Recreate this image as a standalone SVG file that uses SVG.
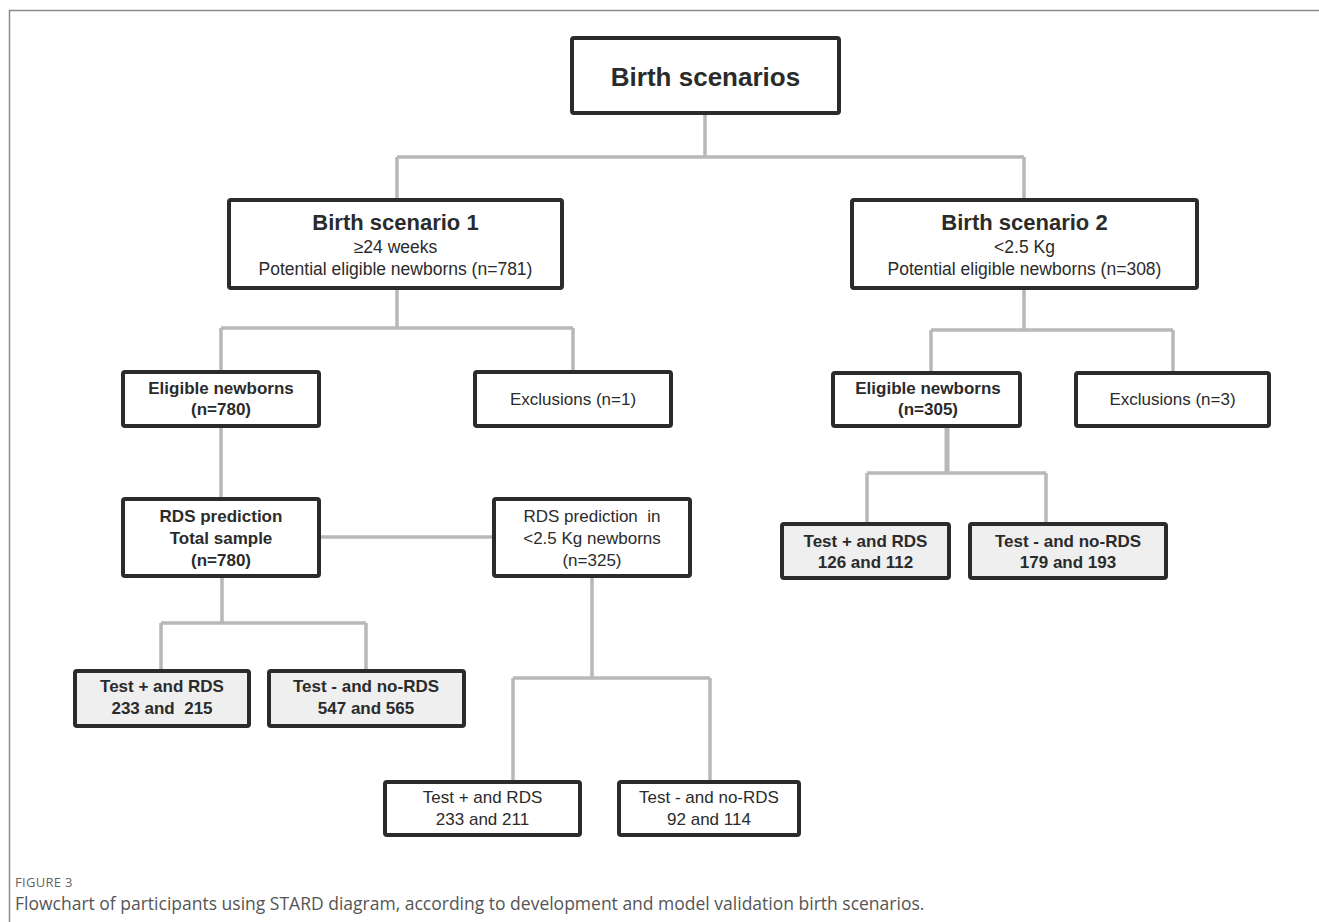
<svg xmlns="http://www.w3.org/2000/svg" width="1319" height="922" viewBox="0 0 1319 922">
<style>
.box{fill:#ffffff;stroke:#2b2b2b;stroke-width:4}
.gbox{fill:#efefef;stroke:#2b2b2b;stroke-width:4}
.t{font-family:"Liberation Sans",Arial,sans-serif;fill:#2b2b2b;text-anchor:middle}
.b{font-weight:bold}
.c{fill:none;stroke:#b8b8b8;stroke-width:3.5}
.cap{font-family:"Open Sans","Liberation Sans",sans-serif}
</style>
<rect x="0" y="0" width="1319" height="922" fill="#ffffff"/>
<path d="M9.5 922 V10.5 H1319" fill="none" stroke="#8a8a8a" stroke-width="1.5"/>
<g id="connectors">
<path class="c" d="M705 113 V157 M397 157 H1024 M397 157 V200 M1024 157 V200"/>
<path class="c" d="M397 288 V328 M221 328 H573 M221 328 V372 M573 328 V372"/>
<path class="c" d="M1024 288 V330 M931 330 H1173 M931 330 V373 M1173 330 V373"/>
<path class="c" d="M221 426 V499"/>
<path class="c" d="M319 537 H494"/>
<path class="c" d="M222 576 V623 M161 623 H366 M161 623 V671 M366 623 V671"/>
<path class="c" d="M592 576 V678 M513 678 H710 M513 678 V782 M710 678 V782"/>
<path class="c" d="M947 426 V473" style="stroke-width:5"/>
<path class="c" d="M867 473 H1046 M867 473 V524 M1046 473 V524"/>
</g>
<g id="root">
<rect class="box" x="572" y="38" width="267" height="75" rx="2"/>
<text class="t b" x="705.5" y="86" font-size="26">Birth scenarios</text>
</g>
<g id="s1">
<rect class="box" x="229" y="200" width="333" height="88" rx="2"/>
<text class="t b" x="395.5" y="230" font-size="22">Birth scenario 1</text>
<text class="t" x="395.5" y="253" font-size="17.5">≥24 weeks</text>
<text class="t" x="395.5" y="275" font-size="17.5">Potential eligible newborns (n=781)</text>
</g>
<g id="s2">
<rect class="box" x="852" y="200" width="345" height="88" rx="2"/>
<text class="t b" x="1024.5" y="230" font-size="22">Birth scenario 2</text>
<text class="t" x="1024.5" y="253" font-size="17.5">&lt;2.5 Kg</text>
<text class="t" x="1024.5" y="275" font-size="17.5">Potential eligible newborns (n=308)</text>
</g>
<g id="elig1">
<rect class="box" x="123" y="372" width="196" height="54" rx="2"/>
<text class="t b" x="221" y="394" font-size="17">Eligible newborns</text>
<text class="t b" x="221" y="415" font-size="17">(n=780)</text>
</g>
<g id="excl1">
<rect class="box" x="475" y="372" width="196" height="54" rx="2"/>
<text class="t" x="573" y="405" font-size="17">Exclusions (n=1)</text>
</g>
<g id="elig2">
<rect class="box" x="833" y="373" width="187" height="53" rx="2"/>
<text class="t b" x="928" y="394" font-size="17">Eligible newborns</text>
<text class="t b" x="928" y="415" font-size="17">(n=305)</text>
</g>
<g id="excl2">
<rect class="box" x="1076" y="373" width="193" height="53" rx="2"/>
<text class="t" x="1172.5" y="405" font-size="17">Exclusions (n=3)</text>
</g>
<g id="rds1">
<rect class="box" x="123" y="499" width="196" height="77" rx="2"/>
<text class="t b" x="221" y="522" font-size="17">RDS prediction</text>
<text class="t b" x="221" y="544" font-size="17">Total sample</text>
<text class="t b" x="221" y="566" font-size="17">(n=780)</text>
</g>
<g id="rds2">
<rect class="box" x="494" y="499" width="196" height="77" rx="2"/>
<text class="t" x="592" y="522" font-size="17" xml:space="preserve">RDS prediction  in</text>
<text class="t" x="592" y="544" font-size="17">&lt;2.5 Kg newborns</text>
<text class="t" x="592" y="566" font-size="17">(n=325)</text>
</g>
<g id="t1p">
<rect class="gbox" x="75" y="671" width="174" height="55" rx="2"/>
<text class="t b" x="162" y="692" font-size="17">Test + and RDS</text>
<text class="t b" x="162" y="714" font-size="17" xml:space="preserve">233 and  215</text>
</g>
<g id="t1n">
<rect class="gbox" x="269" y="671" width="195" height="55" rx="2"/>
<text class="t b" x="366" y="692" font-size="17">Test - and no-RDS</text>
<text class="t b" x="366" y="714" font-size="17">547 and 565</text>
</g>
<g id="t2p">
<rect class="gbox" x="782" y="524" width="167" height="54" rx="2"/>
<text class="t b" x="865.5" y="547" font-size="17">Test + and RDS</text>
<text class="t b" x="865.5" y="568" font-size="17">126 and 112</text>
</g>
<g id="t2n">
<rect class="gbox" x="970" y="524" width="196" height="54" rx="2"/>
<text class="t b" x="1068" y="547" font-size="17">Test - and no-RDS</text>
<text class="t b" x="1068" y="568" font-size="17">179 and 193</text>
</g>
<g id="t3p">
<rect class="box" x="385" y="782" width="195" height="53" rx="2"/>
<text class="t" x="482.5" y="803" font-size="17">Test + and RDS</text>
<text class="t" x="482.5" y="825" font-size="17">233 and 211</text>
</g>
<g id="t3n">
<rect class="box" x="619" y="782" width="180" height="53" rx="2"/>
<text class="t" x="709" y="803" font-size="17">Test - and no-RDS</text>
<text class="t" x="709" y="825" font-size="17">92 and 114</text>
</g>
<g id="caption">
<text class="cap" x="15" y="887" font-size="13" fill="#666" letter-spacing="0.3">FIGURE 3</text>
<text class="cap" x="15" y="910" font-size="17.5" fill="#555">Flowchart of participants using STARD diagram, according to development and model validation birth scenarios.</text>
</g>
</svg>
